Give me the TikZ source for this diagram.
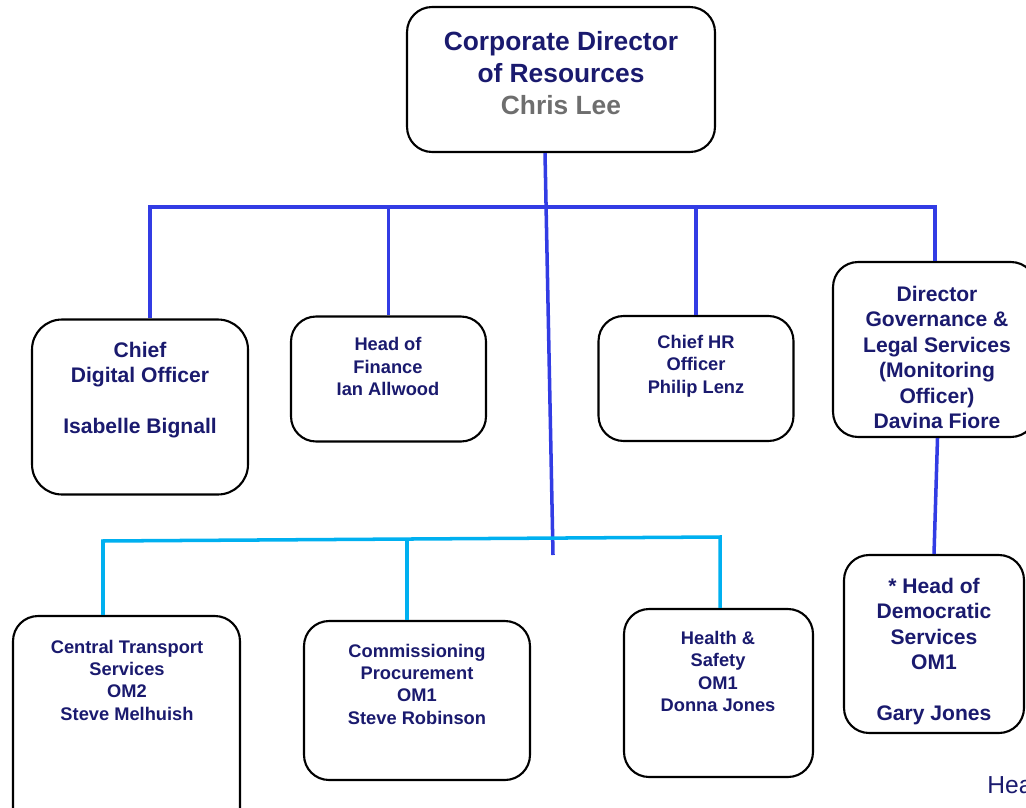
\documentclass[tikz,border=0pt]{standalone}
\usepackage{fontspec}
\setmainfont{Liberation Sans}
\definecolor{navy}{RGB}{26,26,110}
\definecolor{busblue}{RGB}{50,60,228}
\definecolor{subcyan}{RGB}{0,176,240}
\definecolor{namegray}{RGB}{110,110,110}

\begin{document}
\begin{tikzpicture}[x=0.02cm,y=-0.02cm]
 \tikzstyle{box} = [draw=black,line width=1.2pt,rounded corners=0.5cm,fill=white,inner sep=0pt];
 \tikzstyle{txtL} = [text=navy,align=center,font=\fontsize{15}{18}\selectfont\bfseries];
 \tikzstyle{txtM} = [text=navy,align=center,font=\fontsize{12}{14.5}\selectfont\bfseries];
 \tikzstyle{txtS} = [text=navy,align=center,font=\fontsize{10.4}{12.7}\selectfont\bfseries];
 \tikzstyle{bus} = [draw=busblue,line width=2pt];
 \tikzstyle{sub} = [draw=subcyan,line width=2pt];

 \useasboundingbox (0,0) rectangle (1026,807);
 \clip (0,0) rectangle (1026,807);

 % boxes
 \node[box,name=top,minimum width=6.16cm,minimum height=2.9cm] at (561,79.5) {};
 \node[box,name=cdo,minimum width=4.32cm,minimum height=3.5cm,rounded corners=0.6cm] at (140,407) {};
 \node[box,name=fin,minimum width=3.9cm,minimum height=2.5cm] at (388.5,379) {};
 \node[box,name=hr,minimum width=3.9cm,minimum height=2.5cm] at (696,378.5) {};
 \node[box,name=gov,minimum width=4.06cm,minimum height=3.5cm] at (934.5,349.5) {};
 \node[box,name=dem,minimum width=3.6cm,minimum height=3.56cm] at (934,644) {};
 \node[box,name=cts,minimum width=4.54cm,minimum height=4.4cm] at (126.5,726) {};
 \node[box,name=cp,minimum width=4.52cm,minimum height=3.18cm] at (417,700.5) {};
 \node[box,name=hs,minimum width=3.78cm,minimum height=3.36cm] at (718.5,693) {};

 % texts
 \node[txtL,name=topT] at (561,73) {Corporate Director\\of Resources\\\textcolor{namegray}{Chris Lee}};
 \node[txtM,name=cdoT] at (140,390) {Chief\\Digital Officer\\[14.5pt]Isabelle Bignall};
 \node[txtS,name=finT] at (388,366.5) {Head of\\Finance\\Ian Allwood};
 \node[txtS,name=hrT] at (696,366) {Chief HR\\Officer\\Philip Lenz};
 \node[txtM,name=govT] at (937,357.5) {Director\\Governance \&\\Legal Services\\(Monitoring\\Officer)\\Davina Fiore};
 \node[txtM,name=demT] at (934,651.5) {* Head of\\Democratic\\Services\\OM1\\[14.5pt]Gary Jones};
 \node[txtS,name=ctsT] at (127,680) {Central Transport\\Services\\OM2\\Steve Melhuish};
 \node[txtS,name=cpT] at (417,684) {Commissioning\\Procurement\\OM1\\Steve Robinson};
 \node[txtS,name=hsT] at (718,671.5) {Health \&\\Safety\\OM1\\Donna Jones};
 \node[name=hea,anchor=base west,text=navy,font=\fontsize{14}{17}\selectfont,inner sep=0pt] at (987,793) {Hea};

 % connectors
 \coordinate (busL) at (150,207);
 \coordinate (busR) at (935,207);
 \coordinate (trunk) at (553,555);
 \coordinate (subL) at (103,541);
 \coordinate (subM) at (407,539);
 \coordinate (subR) at (720,537);

 \draw[bus] ([xshift=-0.32cm]top.south) -- (trunk);
 \draw[bus] (busL |- cdo.north) -- (busL) -- (busR) -- (busR |- gov.north);
 \draw[bus] (fin.north |- busL) -- (fin.north);
 \draw[bus] (hr.north |- busL) -- (hr.north);
 \draw[bus] ([xshift=0.06cm]gov.south) -- (dem.north);
 \draw[sub] (subL |- cts.north) -- (subL) -- (subR) -- (subR |- hs.north);
 \draw[sub] (subM) -- (subM |- cp.north);
\end{tikzpicture}
\end{document}
